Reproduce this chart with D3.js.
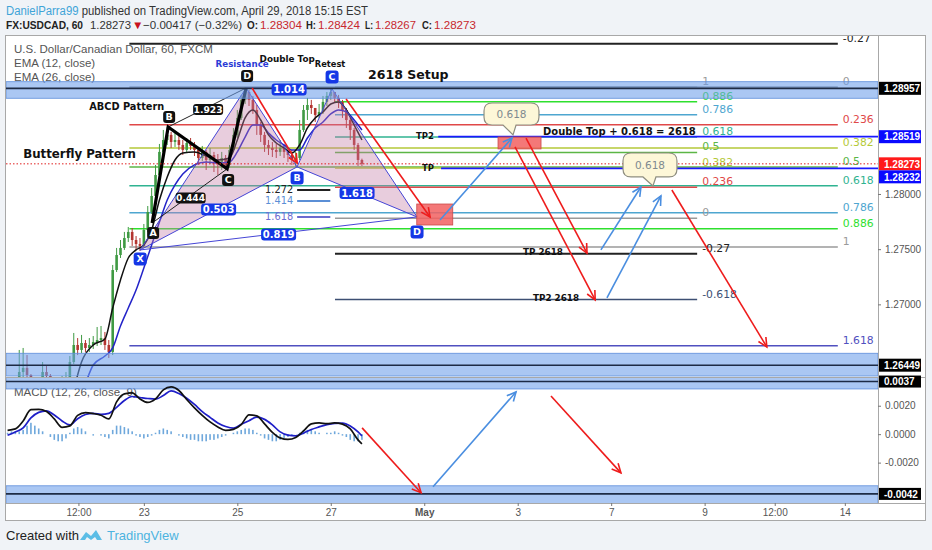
<!DOCTYPE html>
<html>
<head>
<meta charset="utf-8">
<title>USDCAD 60 - 2618 setup</title>
<script src="https://cdn.jsdelivr.net/npm/d3@7/dist/d3.min.js"></script>
<style>
  body { margin: 0; background: #f0f3f7; }
  svg { display: block; font-family: "Liberation Sans", Arial, sans-serif; }
</style>
</head>
<body>
<svg id="chart" width="932" height="550"></svg>
<script>
// ---------------- data ----------------
// 2-hour candles; time = trading days from Mon Apr 23 00:00
var barStart = -2.75, barStep = 1 / 12;
var firstOpen = 1.26242;
var closes = [1.26261,1.26387,1.26424,1.26360,1.26270,1.26261,1.26279,1.26387,1.26351,1.26270,
  1.26261,1.26279,1.26297,1.26333,1.26478,1.26632,1.26587,1.26650,1.26605,1.26632,
  1.26659,1.26677,1.26695,1.26632,1.26569,1.27311,1.27447,1.27511,1.27601,1.27656,
  1.27583,1.27547,1.27529,1.27674,1.27837,1.27982,1.28172,1.28381,1.28489,1.28535,
  1.28471,1.28489,1.28444,1.28399,1.28462,1.28435,1.28399,1.28326,1.28381,1.28308,
  1.28353,1.28308,1.28290,1.28326,1.28263,1.28399,1.28535,1.28689,1.28852,1.28924,
  1.28852,1.28761,1.28625,1.28535,1.28444,1.28417,1.28399,1.28381,1.28417,1.28381,
  1.28353,1.28308,1.28326,1.28580,1.28761,1.28806,1.28779,1.28716,1.28743,1.28834,
  1.28888,1.28924,1.28870,1.28834,1.28761,1.28670,1.28580,1.28444,1.28308,1.28273];
var highs = [1.26315,1.26587,1.26605,1.26541,1.26369,1.26315,1.26333,1.26478,1.26442,1.26369,
  1.26315,1.26333,1.26351,1.26387,1.26532,1.26741,1.26695,1.26723,1.26677,1.26695,
  1.26713,1.26795,1.26804,1.26750,1.26677,1.27357,1.27511,1.27583,1.27656,1.27701,
  1.27692,1.27619,1.27601,1.27728,1.27891,1.28054,1.28263,1.28453,1.28580,1.28607,
  1.28562,1.28553,1.28525,1.28489,1.28507,1.28507,1.28471,1.28417,1.28435,1.28399,
  1.28417,1.28381,1.28362,1.28381,1.28353,1.28444,1.28598,1.28761,1.28897,1.28960,
  1.28942,1.28888,1.28806,1.28652,1.28562,1.28489,1.28471,1.28453,1.28489,1.28444,
  1.28417,1.28399,1.28381,1.28670,1.28806,1.28870,1.28852,1.28779,1.28815,1.28888,
  1.28924,1.28951,1.28924,1.28897,1.28852,1.28779,1.28689,1.28598,1.28462,1.28320];
var lows = [1.26224,1.26261,1.26333,1.26315,1.26224,1.26206,1.26224,1.26261,1.26315,1.26224,
  1.26206,1.26224,1.26242,1.26261,1.26315,1.26460,1.26541,1.26559,1.26569,1.26569,
  1.26596,1.26623,1.26632,1.26587,1.26514,1.26541,1.27293,1.27420,1.27493,1.27565,
  1.27529,1.27493,1.27484,1.27511,1.27656,1.27819,1.27964,1.28145,1.28353,1.28444,
  1.28417,1.28426,1.28399,1.28353,1.28371,1.28399,1.28344,1.28263,1.28299,1.28217,
  1.28272,1.28199,1.28172,1.28217,1.28217,1.28236,1.28381,1.28507,1.28670,1.28815,
  1.28797,1.28725,1.28535,1.28471,1.28381,1.28353,1.28335,1.28326,1.28344,1.28326,
  1.28290,1.28263,1.28245,1.28308,1.28562,1.28670,1.28725,1.28652,1.28689,1.28725,
  1.28797,1.28852,1.28824,1.28779,1.28689,1.28598,1.28489,1.28399,1.28254,1.28254];

// EMA samples at bar indexes
var emaBars = [15,17,20,23,25,27,29,31,33,35,37,39,41,43,46,49,52,55,57,59,61,63,65,67,69,71,73,75,77,79,81,83,85,87,89];
var ema12 = [1.26224,1.26478,1.26632,1.26686,1.26967,1.27221,1.27420,1.27493,1.27538,1.27674,
  1.27946,1.28154,1.28308,1.28371,1.28381,1.28344,1.28308,1.28326,1.28489,1.28689,
  1.28761,1.28670,1.28535,1.28462,1.28417,1.28371,1.28444,1.28598,1.28689,1.28743,
  1.28815,1.28834,1.28761,1.28625,1.28489];
var ema26 = [1.26134,1.26206,1.26451,1.26532,1.26605,1.26804,1.26967,1.27130,1.27330,1.27538,
  1.27746,1.27946,1.28082,1.28181,1.28263,1.28290,1.28281,1.28290,1.28381,1.28516,
  1.28625,1.28625,1.28553,1.28489,1.28444,1.28399,1.28399,1.28507,1.28598,1.28652,
  1.28725,1.28761,1.28743,1.28670,1.28580];

// MACD (12, 26, close, 9)
var macdBars = [-2,0,2,4,6,8,10,12,14,16,18,20,22,24,26,28,30,32,34,36,38,40,42,44,46,48,50,52,54,56,58,60,62,64,66,68,70,72,74,76,78,80,82,84,86,88,89];
var macdLine = [0.00027,0.00037,0.00093,0.00172,0.00174,0.00160,0.00107,0.00048,0.00058,0.00132,
  0.00152,0.00145,0.00133,0.00107,0.00227,0.00283,0.00290,0.00248,0.00223,0.00248,
  0.00311,0.00332,0.00307,0.00244,0.00185,0.00132,0.00086,0.00051,0.00027,0.00034,
  0.00067,0.00135,0.00129,0.00072,0.00013,-0.00026,-0.00037,-0.00023,0.00023,0.00072,
  0.00079,0.00074,0.00079,0.00071,0.00037,-0.00040,-0.00068];
var signalLine = [-0.00008,0.00016,0.00044,0.00114,0.00153,0.00164,0.00135,0.00093,0.00065,0.00109,
  0.00138,0.00146,0.00139,0.00146,0.00188,0.00237,0.00265,0.00258,0.00251,0.00246,
  0.00272,0.00304,0.00286,0.00253,0.00209,0.00159,0.00118,0.00079,0.00054,0.00042,
  0.00069,0.00095,0.00120,0.00104,0.00065,0.00016,-0.00007,-0.00012,0.00007,0.00033,
  0.00051,0.00067,0.00076,0.00078,0.00058,0.00016,-0.00012];
var histStart = -2;
var histogram = [0.0001,0.0002,0.0002,0.0002,0.0003,0.0006,0.0008,0.0006,0.0004,0.0002,0.0000,-0.0002,
  -0.0004,-0.0005,-0.0005,-0.0003,0.0001,0.0004,0.0005,0.0004,0.0002,0.0000,
  -0.0001,0.0000,-0.0001,-0.0002,-0.0003,0.0003,0.0006,0.0006,0.0005,0.0004,
  0.0002,-0.0001,-0.0002,-0.0003,-0.0002,-0.0001,0.0001,0.0003,0.0004,0.0003,
  0.0002,0.0000,-0.0001,-0.0002,-0.0003,-0.0004,-0.0004,-0.0005,-0.0005,-0.0005,
  -0.0004,-0.0004,-0.0003,-0.0002,-0.0001,0.0000,0.0001,0.0002,0.0003,0.0004,
  0.0004,0.0003,0.0001,-0.0001,-0.0003,-0.0004,-0.0005,-0.0005,-0.0004,-0.0003,
  -0.0002,-0.0001,0.0000,0.0001,0.0003,0.0003,0.0003,0.0002,0.0001,0.0000,
  0.0001,0.0001,0.0002,0.0001,-0.0001,-0.0002,-0.0004,-0.0005,-0.0005,-0.0004];

// axes
var tickDays = [-1.4, 0, 2, 4, 6, 8, 10, 12, 13.5, 15];
var tickLabels = ['12:00', '23', '25', '27', 'May', '3', '7', '9', '12:00', '14'];
var priceTicks = [1.265, 1.270, 1.275, 1.280, 1.285, 1.290];
var macdTicks = [0.002, 0, -0.002];
var priceTags = [1.28957, 1.28519, 1.28273, 1.28232, 1.26449];
var macdTags = [0.0037, -0.0042];
var lastPrice = 1.28273;

// fibonacci retracements [start day, end day, price at 0, price at 1]
var rightFib = [-0.31, 14.85, 1.28969, 1.27520];
var rightFibLevels = [-0.27, 0, 0.236, 0.382, 0.5, 0.618, 0.786, 0.886, 1, 1.618];
var midFib = [4.09, 11.84, 1.27780, 1.28972];
var midFibLevels = [-0.618, -0.27, 0, 0.236, 0.382, 0.5, 0.618, 0.786, 0.886, 1];
var extDays = [3.28, 3.99];
var extLevels = ['1.272', '1.414', '1.618'];
var extPrices = [1.28036, 1.27937, 1.27792];

// support / resistance bands [top, bottom, line]
var priceBands = [[1.29017, 1.28867, 1.28957], [1.26557, 1.26351, 1.26449]];
var macdBands = [[0.0045, 0.00318, 0.0037], [-0.00363, -0.0049, -0.0042]];
var tpStartDays = [6.30, 6.36];
var tpPrices = [1.28519, 1.28232];

// harmonic patterns [day, price]
var abcdPoints = [[0.177, 1.27737], [0.520, 1.28607], [1.782, 1.28227], [2.188, 1.28960]];
var abcdNames = ['A', 'B', 'C', 'D'];
var abcdRatios = [[1, 3, '1.923'], [0, 2, '0.444']];
var flyPoints = [[-0.079, 1.27493], [2.188, 1.28960], [3.279, 1.28245], [4.028, 1.28951], [5.846, 1.27792]];
var flyNames = ['X', '', 'B', 'C', 'D'];
var flyRatios = [[1, 3, '1.014'], [0, 2, '0.503'], [2, 4, '1.618'], [0, 4, '0.819']];

// drawings [day0, day1, price0, price1]
var zones = [[5.840, 6.610, 1.27909, 1.27719], [7.579, 8.499, 1.28516, 1.28408]];
var redArrows = [[2.317, 3.281, 1.28960, 1.28281], [4.327, 6.124, 1.28861, 1.27792],
  [8.178, 9.483, 1.28507, 1.27465], [7.942, 9.658, 1.28426, 1.27040], [11.299, 13.331, 1.28036, 1.26614]];
var blueArrows = [[6.338, 7.878, 1.27764, 1.28507], [9.781, 10.637, 1.27493, 1.28063], [9.910, 11.065, 1.27058, 1.27982]];
var macdRedArrows = [[4.670, 5.932, 0.00044, -0.00412], [8.712, 10.209, 0.00269, -0.00272]];
var macdBlueArrows = [[6.188, 7.964, -0.00370, 0.00297]];
// callouts [day0, day1, top, bottom, tip day, tip price]
var callouts = [[7.279, 8.455, 1.28824, 1.28625, 7.90, 1.28535], [10.253, 11.408, 1.28371, 1.28154, 10.894, 1.28072]];
var calloutText = ['0.618', '0.618'];

var noteText = ['Resistance', 'Double Top', 'Retest', '2618 Setup', 'ABCD Pattern', 'Butterfly Pattern',
  'TP2', 'TP', 'Double Top + 0.618 = 2618', 'TP 2618', 'TP2 2618'];
var noteDays = [2.103, 3.067, 3.985, 4.798, -1.170, -2.582, 5.825, 5.953, 8.541, 8.113, 8.327];
var notePrices = [1.29150, 1.29196, 1.29150, 1.29042, 1.28761, 1.28326, 1.28494, 1.28208, 1.28535, 1.27443, 1.27026];

// ---------------- drawing ----------------
var noteStyle = [
  {a: 'middle', s: 8.7, c: '#2b3bd6'}, {a: 'middle', s: 8.8, c: '#111'}, {a: 'middle', s: 8.3, c: '#111'},
  {a: 'start', s: 12.5, c: '#111'}, {a: 'start', s: 9.8, c: '#111'}, {a: 'start', s: 11.8, c: '#111'},
  {a: 'start', s: 8.5, c: '#111'}, {a: 'start', s: 8.5, c: '#111'}, {a: 'start', s: 10, c: '#111'},
  {a: 'start', s: 8.8, c: '#111'}, {a: 'start', s: 8.8, c: '#111'}];
var fibColor = {'-0.618': '#3d4f73', '-0.27': '#222', '0': '#9a9a9a', '0.236': '#e04848', '0.382': '#b5c938',
  '0.5': '#5cb646', '0.618': '#2fb391', '0.786': '#4ea6d0', '0.886': '#2ee02e', '1': '#9a9a9a', '1.618': '#5050c0'};

var svg = d3.select('#chart');
var left = 6, right = 878, pTop = 36, pBot = 377, mBot = 503;
var x = d3.scaleLinear().domain([-2.95, 15.71]).range([left, right]);
var y = d3.scaleLinear().domain([1.26342, 1.29431]).range([pBot, pTop]);
var ym = d3.scaleLinear().domain([-0.00484, 0.00402]).range([mBot, pBot]);
var barDay = function(i) { return barStart + i * barStep; };

// header
var t1 = svg.append('text').attr('x', 6).attr('y', 15).attr('font-size', 12.5)
  .attr('textLength', 362).attr('lengthAdjust', 'spacingAndGlyphs');
t1.append('tspan').attr('fill', '#3fa4d8').text('DanielParra99');
t1.append('tspan').attr('fill', '#333').text(' published on TradingView.com, April 29, 2018 15:15 EST');
var hdr = [['FX:USDCAD, 60', 6, '#222', 'bold', 77], ['1.28273', 90, '#333', 'normal', 41], ['\u25BC', 132, '#c8141e', 'normal', 0],
  ['\u22120.00417 (\u22120.32%)', 143, '#333', 'normal', 99], ['O:', 247, '#222', 'bold', 11], ['1.28304', 260, '#c8282e', 'normal', 42],
  ['H:', 306, '#222', 'bold', 10], ['1.28424', 318, '#c8282e', 'normal', 42], ['L:', 365, '#222', 'bold', 8], ['1.28267', 375, '#c8282e', 'normal', 41],
  ['C:', 422, '#222', 'bold', 10], ['1.28273', 434, '#c8282e', 'normal', 42]];
hdr.forEach(function(h) {
  var t = svg.append('text').attr('x', h[1]).attr('y', 29).attr('font-size', 11.6).attr('fill', h[2])
    .attr('font-weight', h[3]).text(h[0]);
  if (h[4]) t.attr('textLength', h[4]).attr('lengthAdjust', 'spacingAndGlyphs');
});

// frame
svg.append('rect').attr('x', 5.5).attr('y', 35.5).attr('width', 920).attr('height', 485)
  .attr('fill', '#fff').attr('stroke', '#a8a8a8');

var defs = svg.append('defs');
defs.append('clipPath').attr('id', 'pclip').append('rect')
  .attr('x', left).attr('y', pTop).attr('width', right - left).attr('height', pBot - pTop);
defs.append('clipPath').attr('id', 'mclip').append('rect')
  .attr('x', left).attr('y', pBot).attr('width', right - left).attr('height', mBot - pBot);

// legends
var lg = svg.append('g').attr('fill', '#555').attr('font-size', 11.5);
lg.append('text').attr('x', 14).attr('y', 53).text('U.S. Dollar/Canadian Dollar, 60, FXCM');
lg.append('text').attr('x', 14).attr('y', 67).text('EMA (12, close)');
lg.append('text').attr('x', 14).attr('y', 81).text('EMA (26, close)');
lg.append('text').attr('x', 14).attr('y', 396).text('MACD (12, 26, close, 9)');

var pg = svg.append('g').attr('clip-path', 'url(#pclip)');
var mg = svg.append('g').attr('clip-path', 'url(#mclip)');

// fib retracements
function drawFib(f, levels) {
  levels.forEach(function(L) {
    var p = f[2] + L * (f[3] - f[2]), yy = y(p), c = fibColor[String(L)];
    pg.append('line').attr('x1', x(f[0])).attr('x2', x(f[1])).attr('y1', yy).attr('y2', yy)
      .attr('stroke', c).attr('stroke-width', (L === -0.27) ? 2 : 1.5);
    pg.append('text').attr('x', x(f[1]) + 5).attr('y', yy - 2).attr('fill', c)
      .attr('font-family', '"DejaVu Sans", sans-serif').attr('font-size', 10.8).text(String(L));
  });
}
drawFib(rightFib, rightFibLevels);
drawFib(midFib, midFibLevels);
var extColors = ['#222', '#5b8fd6', '#6b6bd0'];
extPrices.forEach(function(p, i) {
  pg.append('line').attr('x1', x(extDays[0])).attr('x2', x(extDays[1])).attr('y1', y(p)).attr('y2', y(p))
    .attr('stroke', extColors[i]).attr('stroke-width', 2);
  pg.append('text').attr('x', x(extDays[0]) - 4).attr('y', y(p) + 3.5).attr('text-anchor', 'end')
    .attr('fill', extColors[i]).attr('font-family', '"DejaVu Sans", sans-serif').attr('font-size', 9.8)
    .text(extLevels[i]);
});

// candles
var bars = closes.map(function(c, i) {
  return {d: barDay(i), o: i ? closes[i - 1] : firstOpen, h: highs[i], l: lows[i], c: c};
});
var candleColor = function(b) { return b.c >= b.o ? '#3f9a43' : '#b3342f'; };
pg.append('g').selectAll('line').data(bars).enter().append('line')
  .attr('x1', function(b) { return x(b.d); }).attr('x2', function(b) { return x(b.d); })
  .attr('y1', function(b) { return y(b.h); }).attr('y2', function(b) { return y(b.l); })
  .attr('stroke', candleColor).attr('stroke-width', 1);
pg.append('g').selectAll('rect').data(bars).enter().append('rect')
  .attr('x', function(b) { return x(b.d) - 1.3; }).attr('width', 2.6)
  .attr('y', function(b) { return y(Math.max(b.o, b.c)); })
  .attr('height', function(b) { return Math.max(1, Math.abs(y(b.o) - y(b.c))); })
  .attr('fill', candleColor);

// EMAs
var emaLine = d3.line().x(function(d) { return x(barDay(d[0])); }).y(function(d) { return y(d[1]); })
  .curve(d3.curveMonotoneX);
pg.append('path').datum(d3.zip(emaBars, ema26)).attr('d', emaLine)
  .attr('fill', 'none').attr('stroke', '#2323c8').attr('stroke-width', 1.5);
pg.append('path').datum(d3.zip(emaBars, ema12)).attr('d', emaLine)
  .attr('fill', 'none').attr('stroke', '#111').attr('stroke-width', 1.5);

// butterfly pattern
var P = function(pt) { return [x(pt[0]), y(pt[1])]; };
var fp = flyPoints.map(P);
pg.append('path').attr('d', d3.line()([fp[0], fp[1], fp[2]]) + 'Z').attr('fill', '#c27ba6').attr('fill-opacity', 0.38);
pg.append('path').attr('d', d3.line()([fp[2], fp[3], fp[4]]) + 'Z').attr('fill', '#c27ba6').attr('fill-opacity', 0.38);
[[0, 1], [1, 2], [0, 2], [2, 3], [3, 4], [2, 4], [0, 4], [1, 3]].forEach(function(s) {
  pg.append('line').attr('x1', fp[s[0]][0]).attr('y1', fp[s[0]][1]).attr('x2', fp[s[1]][0]).attr('y2', fp[s[1]][1])
    .attr('stroke', '#4646d6').attr('stroke-width', 1);
});

// ABCD pattern
var ap = abcdPoints.map(P);
[[1, 3], [0, 2]].forEach(function(s) {
  pg.append('line').attr('x1', ap[s[0]][0]).attr('y1', ap[s[0]][1]).attr('x2', ap[s[1]][0]).attr('y2', ap[s[1]][1])
    .attr('stroke', '#222').attr('stroke-width', 1);
});
pg.append('path').attr('d', d3.line()(ap)).attr('fill', 'none').attr('stroke', '#000')
  .attr('stroke-width', 3.2).attr('stroke-linejoin', 'miter');

// bands
function drawBands(g, bands, sc) {
  bands.forEach(function(b) {
    g.append('rect').attr('x', left).attr('width', right - left).attr('y', sc(b[0]))
      .attr('height', sc(b[1]) - sc(b[0])).attr('fill', '#6d9eeb').attr('fill-opacity', 0.58)
      .attr('stroke', '#5d8edb').attr('stroke-width', 0.8);
    g.append('line').attr('x1', left).attr('x2', right).attr('y1', sc(b[2])).attr('y2', sc(b[2]))
      .attr('stroke', '#1d2b45').attr('stroke-width', 1.6);
  });
}
drawBands(pg, priceBands, y);
drawBands(mg, macdBands, ym);

// targets and last price
tpPrices.forEach(function(p, i) {
  pg.append('line').attr('x1', x(tpStartDays[i])).attr('x2', right).attr('y1', y(p)).attr('y2', y(p))
    .attr('stroke', '#1a1aff').attr('stroke-width', 1.8);
});
pg.append('line').attr('x1', left).attr('x2', right).attr('y1', y(lastPrice)).attr('y2', y(lastPrice))
  .attr('stroke', '#e02020').attr('stroke-width', 1).attr('stroke-dasharray', '1.5,2');

// zones
zones.forEach(function(z) {
  pg.append('rect').attr('x', x(z[0])).attr('width', x(z[1]) - x(z[0])).attr('y', y(z[2]))
    .attr('height', y(z[3]) - y(z[2])).attr('fill', '#f26060').attr('fill-opacity', 0.85)
    .attr('stroke', '#c94a4a').attr('stroke-width', 0.8);
});

// arrows
function arrow(g, x1, y1, x2, y2, color) {
  g.append('line').attr('x1', x1).attr('y1', y1).attr('x2', x2).attr('y2', y2)
    .attr('stroke', color).attr('stroke-width', 1.6);
  var a = Math.atan2(y2 - y1, x2 - x1), L = 10, s = 0.45;
  var head = [[x2 - L * Math.cos(a - s), y2 - L * Math.sin(a - s)], [x2, y2],
    [x2 - L * Math.cos(a + s), y2 - L * Math.sin(a + s)]];
  g.append('path').attr('d', d3.line()(head)).attr('fill', 'none').attr('stroke', color).attr('stroke-width', 1.6);
}
redArrows.forEach(function(r) { arrow(pg, x(r[0]), y(r[2]), x(r[1]), y(r[3]), '#ee1c1c'); });
blueArrows.forEach(function(r) { arrow(pg, x(r[0]), y(r[2]), x(r[1]), y(r[3]), '#4a8ee0'); });

// callouts
callouts.forEach(function(c, i) {
  var x0 = x(c[0]), x1 = x(c[1]), yt = y(c[2]), yb = y(c[3]), tx = x(c[4]), ty = y(c[5]), r = 8;
  var d = 'M' + (x0 + r) + ',' + yt + 'H' + (x1 - r) + 'Q' + x1 + ',' + yt + ' ' + x1 + ',' + (yt + r) +
    'V' + (yb - r) + 'Q' + x1 + ',' + yb + ' ' + (x1 - r) + ',' + yb + 'H' + (tx + 3) + 'L' + tx + ',' + ty +
    'L' + (tx - 10) + ',' + yb + 'H' + (x0 + r) + 'Q' + x0 + ',' + yb + ' ' + x0 + ',' + (yb - r) +
    'V' + (yt + r) + 'Q' + x0 + ',' + yt + ' ' + (x0 + r) + ',' + yt + 'Z';
  pg.append('path').attr('d', d).attr('fill', '#fdf7d8').attr('stroke', '#8e8e80').attr('stroke-width', 1.2);
  pg.append('text').attr('x', (x0 + x1) / 2).attr('y', (yt + yb) / 2 + 4).attr('text-anchor', 'middle')
    .attr('fill', '#7f8a8f').attr('font-family', '"DejaVu Sans", sans-serif').attr('font-size', 10.5)
    .text(calloutText[i]);
});

// labels on patterns
function box(g, cx, cy, w, h, fill, label, fs) {
  g.append('rect').attr('x', cx - w / 2).attr('y', cy - h / 2).attr('width', w).attr('height', h)
    .attr('rx', 3).attr('fill', fill);
  g.append('text').attr('x', cx).attr('y', cy).attr('dy', '0.36em').attr('text-anchor', 'middle')
    .attr('fill', '#fff').attr('font-weight', 'bold').attr('font-size', fs)
    .attr('font-family', '"DejaVu Sans", sans-serif').text(label);
}
var lab = svg.append('g');
abcdRatios.forEach(function(r) {
  var a = ap[r[0]], b = ap[r[1]];
  box(lab, (a[0] + b[0]) / 2 + 1, (a[1] + b[1]) / 2 + 2, 30, 11, '#111', r[2], 9.2);
});
flyRatios.forEach(function(r) {
  var a = fp[r[0]], b = fp[r[1]];
  box(lab, (a[0] + b[0]) / 2, (a[1] + b[1]) / 2 + 1, 35, 12, '#1537e6', r[2], 10);
});
var abcdOff = [10, -10, 11, -12], flyOff = [9, 0, 11, -12, 15];
abcdNames.forEach(function(n, i) { box(lab, ap[i][0] + 1, ap[i][1] + abcdOff[i], 12, 12, '#111', n, 9.5); });
flyNames.forEach(function(n, i) { if (n) box(lab, fp[i][0], fp[i][1] + flyOff[i], 13, 13, '#1537e6', n, 9.5); });

// notes
noteText.forEach(function(t, i) {
  var st = noteStyle[i];
  lab.append('text').attr('x', x(noteDays[i])).attr('y', y(notePrices[i])).attr('text-anchor', st.a)
    .attr('fill', st.c).attr('font-weight', 'bold').attr('font-size', st.s)
    .attr('font-family', '"DejaVu Sans", sans-serif').text(t);
});

// MACD pane
mg.append('g').selectAll('rect').data(histogram).enter().append('rect')
  .attr('x', function(v, i) { return x(barDay(histStart + i)) - 0.8; }).attr('width', 1.6)
  .attr('y', function(v) { return ym(Math.max(0, v)); })
  .attr('height', function(v) { return Math.abs(ym(v) - ym(0)); })
  .attr('fill', '#6fa8dc');
var mLine = d3.line().x(function(d) { return x(barDay(d[0])); }).y(function(d) { return ym(d[1]); })
  .curve(d3.curveMonotoneX);
mg.append('path').datum(d3.zip(macdBars, signalLine)).attr('d', mLine)
  .attr('fill', 'none').attr('stroke', '#1f1fc8').attr('stroke-width', 1.7);
mg.append('path').datum(d3.zip(macdBars, macdLine)).attr('d', mLine)
  .attr('fill', 'none').attr('stroke', '#111').attr('stroke-width', 1.7);
macdRedArrows.forEach(function(r) { arrow(mg, x(r[0]), ym(r[2]), x(r[1]), ym(r[3]), '#ee1c1c'); });
macdBlueArrows.forEach(function(r) { arrow(mg, x(r[0]), ym(r[2]), x(r[1]), ym(r[3]), '#4a8ee0'); });

// separators
var sep = svg.append('g').attr('stroke', '#a8a8a8').attr('stroke-width', 1);
sep.append('line').attr('x1', right + 0.5).attr('x2', right + 0.5).attr('y1', pTop).attr('y2', mBot);
sep.append('line').attr('x1', left).attr('x2', 926).attr('y1', pBot + 0.5).attr('y2', pBot + 0.5);
sep.append('line').attr('x1', left).attr('x2', 926).attr('y1', mBot + 0.5).attr('y2', mBot + 0.5);

// axes (price ticks hidden behind a tag are left out, as on the chart)
function styleAxis(g) {
  g.select('.domain').remove();
  g.selectAll('text').attr('fill', '#555').attr('font-size', 10)
    .attr('font-family', '"Liberation Sans", Arial, sans-serif');
  g.selectAll('line').attr('stroke', '#777');
}
var freeTicks = priceTicks.filter(function(t) {
  return priceTags.every(function(p) { return Math.abs(y(p) - y(t)) > 12; });
});
svg.append('g').attr('transform', 'translate(0,' + mBot + ')')
  .call(d3.axisBottom(x).tickValues(tickDays).tickSize(3).tickPadding(3)
    .tickFormat(function(d, i) { return tickLabels[i]; }))
  .call(styleAxis)
  .selectAll('text').attr('font-weight', function(d, i) { return tickLabels[i] === 'May' ? 'bold' : 'normal'; });
svg.append('g').attr('transform', 'translate(' + right + ',0)')
  .call(d3.axisRight(y).tickValues(freeTicks).tickSize(3).tickPadding(4).tickFormat(d3.format('.5f')))
  .call(styleAxis);
svg.append('g').attr('transform', 'translate(' + right + ',0)')
  .call(d3.axisRight(ym).tickValues(macdTicks).tickSize(3).tickPadding(4)
    .tickFormat(function(d) { return d.toFixed(4); }))
  .call(styleAxis);

// axis tags (pushed apart so they don't overlap)
var tagColors = ['#000', '#0a0aff', '#ff1a1a', '#0a0aff', '#000'];
var lastY = -100;
priceTags.map(function(p, i) { return {p: p, c: tagColors[i], y: y(p)}; })
  .sort(function(a, b) { return a.y - b.y; })
  .forEach(function(t) {
    var ty = Math.max(t.y, lastY + 13);
    lastY = ty;
    svg.append('rect').attr('x', right + 1).attr('y', ty - 6.5).attr('width', 42).attr('height', 13).attr('fill', t.c);
    svg.append('text').attr('x', right + 6).attr('y', ty + 3.8).attr('fill', '#fff').attr('font-weight', 'bold')
      .attr('font-size', 10).text(t.p.toFixed(5));
  });
macdTags.forEach(function(v) {
  svg.append('rect').attr('x', right + 1).attr('y', ym(v) - 6).attr('width', 42).attr('height', 12).attr('fill', '#000');
  svg.append('text').attr('x', right + 6).attr('y', ym(v) + 3.8).attr('fill', '#fff').attr('font-weight', 'bold')
    .attr('font-size', 10).text(v.toFixed(4));
});

// footer
svg.append('text').attr('x', 6).attr('y', 540).attr('font-size', 13).attr('fill', '#222').text('Created with');
svg.append('path').attr('d', 'M80,540 L86,532 L91,536 L96,530 L102,540 L97,540 L95,537 L91,540 L87,537 L85,540 Z')
  .attr('fill', '#5bbde6');
svg.append('text').attr('x', 107).attr('y', 540).attr('font-size', 13).attr('fill', '#4db3e0').text('TradingView');
</script>
</body>
</html>
